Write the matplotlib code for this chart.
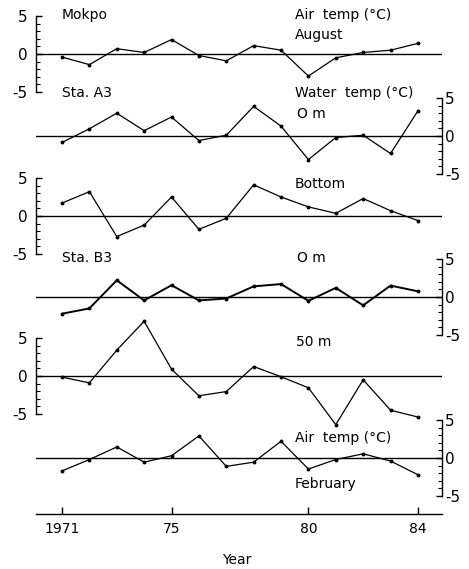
import numpy as np
import matplotlib
matplotlib.use('Agg')
import matplotlib.pyplot as plt
from matplotlib.ticker import MultipleLocator

years = np.arange(1971, 1985)

# anomalies (deg C)
mokpo_aug = [-0.4, -1.4, 0.7, 0.2, 1.9, -0.2, -0.9, 1.1, 0.5, -2.9, -0.5, 0.2, 0.5, 1.4]
a3_0m = [-0.85, 0.95, 3.0, 0.7, 2.5, -0.6, 0.1, 3.9, 1.3, -3.1, -0.2, 0.1, -2.3, 3.3]
a3_bottom = [1.7, 3.2, -2.7, -1.2, 2.5, -1.75, -0.3, 4.1, 2.5, 1.2, 0.35, 2.3, 0.7, -0.6]
b3_0m = [-2.2, -1.5, 2.2, -0.45, 1.55, -0.45, -0.2, 1.4, 1.7, -0.5, 1.2, -1.1, 1.5, 0.75]
b3_50m = [-0.15, -0.9, 3.4, 7.2, 0.9, -2.6, -2.05, 1.25, -0.1, -1.55, -6.4, -0.5, -4.5, -5.4]
mokpo_feb = [-1.7, -0.2, 1.45, -0.55, 0.3, 2.9, -1.1, -0.55, 2.2, -1.45, -0.2, 0.55, -0.4, -2.2]

W, H = 469, 569
fig = plt.figure(figsize=(W / 100, H / 100), dpi=100)
plt.rcParams['font.family'] = 'DejaVu Sans'

X0, X1 = 36, 442          # axes left/right in px
XL = (1970.05, 1984.88)


def px_ax(top, bot, left=X0, right=X1):
    return [left / W, 1 - bot / H, (right - left) / W, (bot - top) / H]


# (series, zero-line px, side)
panels = [
    (mokpo_aug, 54, 'left'),
    (a3_0m, 136, 'right'),
    (a3_bottom, 216, 'left'),
    (b3_0m, 297, 'right'),
    (b3_50m, 376, 'left'),
    (mokpo_feb, 458, 'right'),
]
half = 38

for k, (vals, zc, side) in enumerate(panels):
    ax = fig.add_axes(px_ax(zc - half, zc + half))
    ax.patch.set_alpha(0)
    lw = 1.4 if k == 3 else 0.9
    ax.plot(years, vals, color='k', lw=lw, marker='o', ms=1.8, clip_on=False)
    ax.axhline(0, color='k', lw=1.0)
    ax.set_xlim(*XL)
    ax.set_ylim(-5, 5)
    for s in ['top', 'bottom', 'left', 'right']:
        ax.spines[s].set_visible(False)
    ax.spines[side].set_visible(True)
    ax.spines[side].set_linewidth(1.0)
    ax.set_xticks([])
    ax.yaxis.set_ticks_position(side)
    ax.yaxis.set_label_position(side)
    ax.set_yticks([-5, 0, 5])
    ax.set_yticklabels(['-5', '0', '5'])
    ax.yaxis.set_minor_locator(MultipleLocator(1))
    ax.tick_params(axis='y', which='major', direction='in', length=4, width=1.0,
                   labelsize=11, pad=6 if side == 'left' else 2)
    ax.tick_params(axis='y', which='minor', direction='in', length=3, width=0.8)

# bottom year axis
axx = fig.add_axes(px_ax(513, 514))
axx.patch.set_alpha(0)
for s in ['top', 'left', 'right']:
    axx.spines[s].set_visible(False)
axx.spines['bottom'].set_linewidth(1.0)
axx.set_xlim(*XL)
axx.set_yticks([])
axx.set_xticks([1971, 1975, 1980, 1984])
axx.set_xticklabels(['1971', '75', '80', '84'])
axx.tick_params(axis='x', direction='in', length=5, width=1.0, labelsize=10, pad=6)


def txt(x, y, s, **kw):
    fig.text(x / W, 1 - y / H, s, fontsize=10, va='center', **kw)


txt(62, 15, 'Mokpo')
txt(295, 15, 'Air  temp (°C)')
txt(295, 35, 'August')
txt(62, 93, 'Sta. A3')
txt(295, 93, 'Water  temp (°C)')
txt(297, 114, 'O m')
txt(295, 184, 'Bottom')
txt(62, 258, 'Sta. B3')
txt(297, 258, 'O m')
txt(296, 342, '50 m')
txt(295, 438, 'Air  temp (°C)')
txt(295, 484, 'February')
txt(237, 560, 'Year', ha='center')

fig.savefig('out.png', dpi=100)
